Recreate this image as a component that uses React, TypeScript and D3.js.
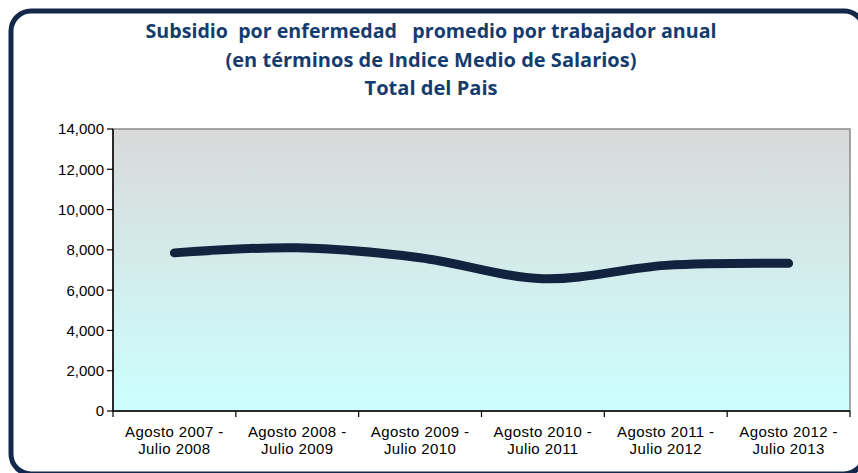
import React from "react";
import * as d3 from "d3";

const categories = [
  ["Agosto 2007 -", "Julio 2008"],
  ["Agosto 2008 -", "Julio 2009"],
  ["Agosto 2009 -", "Julio 2010"],
  ["Agosto 2010 -", "Julio 2011"],
  ["Agosto 2011 -", "Julio 2012"],
  ["Agosto 2012 -", "Julio 2013"],
];
const values = [7850, 8100, 7610, 6570, 7230, 7330];
const yTicks = [0, 2000, 4000, 6000, 8000, 10000, 12000, 14000];
const titleLines = [
  "Subsidio  por enfermedad   promedio por trabajador anual",
  "(en términos de Indice Medio de Salarios)",
  "Total del Pais",
];

const W = 858;
const H = 473;
const left = 113;
const right = 850;
const top = 129;
const bottom = 411;

export default function App() {
  const x = d3.scaleBand<number>().domain(d3.range(categories.length)).range([left, right]);
  const y = d3.scaleLinear().domain([0, 14000]).range([bottom, top]);
  const fmt = d3.format(",");
  const line = d3
    .line<number>()
    .x((_, i) => (x(i) as number) + x.bandwidth() / 2)
    .y((d) => y(d))
    .curve(d3.curveCardinal.tension(0));

  const titleWidths = [571, 411, 133];
  const titleBase = [38, 67, 95];

  return (
    <svg width={W} height={H} style={{ position: "absolute", left: 0, top: 0 }}>
      <defs>
        <linearGradient id="bg" x1="0" y1="0" x2="0" y2="1">
          <stop offset="0" stopColor="#d9d9d9" />
          <stop offset="1" stopColor="#ccffff" />
        </linearGradient>
      </defs>
      <rect x={0} y={0} width={W} height={H} fill="#ffffff" />
      <rect x={11} y={11} width={853} height={463} rx={20} ry={20} fill="none" stroke="#13284a" strokeWidth={5} />
      {titleLines.map((t, i) => (
        <text
          key={i}
          x={431}
          y={titleBase[i]}
          textAnchor="middle"
          fontFamily="'Open Sans', sans-serif"
          fontWeight="bold"
          fontSize={19}
          fill="#143c6e"
          textLength={titleWidths[i]}
          lengthAdjust="spacingAndGlyphs"
          style={{ whiteSpace: "pre" }}
        >
          {t}
        </text>
      ))}
      <rect x={left} y={top} width={right - left} height={bottom - top} fill="url(#bg)" stroke="#8c8c8c" strokeWidth={1.5} />
      {/* y axis */}
      <line x1={left} x2={left} y1={top} y2={bottom} stroke="#000" strokeWidth={1.5} />
      {yTicks.map((t) => (
        <g key={t}>
          <line x1={left - 6} x2={left} y1={y(t)} y2={y(t)} stroke="#000" strokeWidth={1.2} />
          <text
            x={left - 9}
            y={y(t)}
            dy="0.36em"
            textAnchor="end"
            fontFamily="'Liberation Sans', Arial, sans-serif"
            fontSize={15}
            fill="#000"
          >
            {fmt(t)}
          </text>
        </g>
      ))}
      {/* x axis */}
      <line x1={left} x2={right} y1={bottom} y2={bottom} stroke="#000" strokeWidth={1.5} />
      {d3.range(categories.length + 1).map((i) => {
        const xx = i < categories.length ? (x(i) as number) : right;
        return <line key={i} x1={xx} x2={xx} y1={bottom} y2={bottom + 6} stroke="#000" strokeWidth={1.2} />;
      })}
      {categories.map((c, i) => {
        const cx = (x(i) as number) + x.bandwidth() / 2;
        return (
          <text
            key={i}
            textAnchor="middle"
            fontFamily="'Liberation Sans', Arial, sans-serif"
            fontSize={15}
            fill="#000"
            letterSpacing={0.4}
          >
            <tspan x={cx} y={437}>{c[0]}</tspan>
            <tspan x={cx} y={454}>{c[1]}</tspan>
          </text>
        );
      })}
      <path d={line(values) || ""} fill="none" stroke="#11233f" strokeWidth={9} strokeLinecap="round" strokeLinejoin="round" />
    </svg>
  );
}
